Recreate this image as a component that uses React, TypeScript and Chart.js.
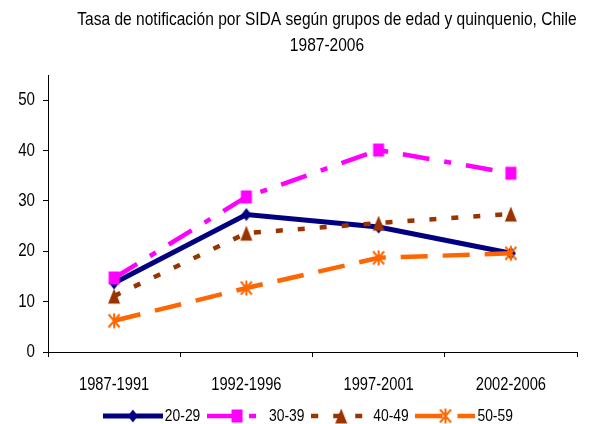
import React, { useEffect, useRef } from "react";
import { Chart, registerables } from "chart.js";

Chart.register(...registerables);

const titleLines = [
  "Tasa de notificación por SIDA según grupos de edad y quinquenio, Chile",
  "1987-2006",
];
const categories = ["1987-1991", "1992-1996", "1997-2001", "2002-2006"];
const seriesNames = ["20-29", "30-39", "40-49", "50-59"];
const values2029 = [13.7, 27.3, 24.8, 19.6];
const values3039 = [14.7, 30.8, 40.1, 35.5];
const values4049 = [11.1, 23.6, 25.6, 27.4];
const values5059 = [6.2, 12.7, 18.7, 19.6];
const yTicks = [0, 10, 20, 30, 40, 50];
const yMax = 55;

const FONT = "'Liberation Sans', Arial, sans-serif";
const TEXT_SCALE_X = 0.84;
const colors = ["#000080", "#FF00FF", "#993300", "#FF6600"];
const dashes: number[][] = [[], [27, 15, 7, 15], [7, 15], [27, 15]];
const widths = [5, 4.5, 4.5, 4.5];
const markers = ["diamond", "square", "triangle", "star"];

function drawMarker(ctx: CanvasRenderingContext2D, kind: string, cx: number, cy: number, color: string) {
  ctx.save();
  ctx.setLineDash([]);
  ctx.fillStyle = color;
  ctx.strokeStyle = color;
  ctx.beginPath();
  if (kind === "diamond") {
    ctx.moveTo(cx, cy - 6.5);
    ctx.lineTo(cx + 5, cy);
    ctx.lineTo(cx, cy + 6.5);
    ctx.lineTo(cx - 5, cy);
    ctx.closePath();
    ctx.fill();
  } else if (kind === "square") {
    ctx.rect(cx - 5.5, cy - 6.5, 11, 13);
    ctx.fill();
  } else if (kind === "triangle") {
    ctx.moveTo(cx, cy - 7.5);
    ctx.lineTo(cx + 6, cy + 7.5);
    ctx.lineTo(cx - 6, cy + 7.5);
    ctx.closePath();
    ctx.fill();
  } else {
    ctx.lineWidth = 2;
    ctx.moveTo(cx - 5.5, cy - 6.5);
    ctx.lineTo(cx + 5.5, cy + 6.5);
    ctx.moveTo(cx + 5.5, cy - 6.5);
    ctx.lineTo(cx - 5.5, cy + 6.5);
    ctx.moveTo(cx, cy - 7.5);
    ctx.lineTo(cx, cy + 7.5);
    ctx.stroke();
  }
  ctx.restore();
}

function makeCanvas(w: number, h: number, draw: (ctx: CanvasRenderingContext2D) => void) {
  const c = document.createElement("canvas");
  c.width = w;
  c.height = h;
  const ctx = c.getContext("2d");
  if (ctx) draw(ctx);
  return c;
}

function pointImage(i: number) {
  return makeCanvas(16, 18, (ctx) => drawMarker(ctx, markers[i], 8, 9, colors[i]));
}

function legendImage(i: number) {
  return makeCanvas(60, 18, (ctx) => {
    ctx.strokeStyle = colors[i];
    ctx.lineWidth = widths[i];
    ctx.setLineDash(dashes[i]);
    ctx.beginPath();
    ctx.moveTo(0, 9);
    ctx.lineTo(60, 9);
    ctx.stroke();
    drawMarker(ctx, markers[i], 30, 9, colors[i]);
  });
}

// narrow the text horizontally (reference uses a condensed-looking Arial)
function condenseText(ctx: any) {
  if (!ctx || ctx.__condensed) return;
  ctx.__condensed = true;
  const origFill = ctx.fillText.bind(ctx);
  const origMeasure = ctx.measureText.bind(ctx);
  ctx.fillText = (text: string, x: number, y: number, maxWidth?: number) => {
    ctx.save();
    ctx.translate(x, y);
    ctx.scale(TEXT_SCALE_X, 1);
    if (maxWidth !== undefined && maxWidth !== null) origFill(text, 0, 0, maxWidth / TEXT_SCALE_X);
    else origFill(text, 0, 0);
    ctx.restore();
  };
  ctx.measureText = (text: string) => {
    const m = origMeasure(text);
    return {
      width: m.width * TEXT_SCALE_X,
      actualBoundingBoxAscent: m.actualBoundingBoxAscent,
      actualBoundingBoxDescent: m.actualBoundingBoxDescent,
      actualBoundingBoxLeft: m.actualBoundingBoxLeft * TEXT_SCALE_X,
      actualBoundingBoxRight: m.actualBoundingBoxRight * TEXT_SCALE_X,
      fontBoundingBoxAscent: m.fontBoundingBoxAscent,
      fontBoundingBoxDescent: m.fontBoundingBoxDescent,
    };
  };
}

const TITLE_DX = 38.5;
const LEG_DX = 22.5;

const shiftPlugin = {
  id: "shiftBoxes",
  afterLayout(chart: any) {
    const t = chart.titleBlock;
    if (t) {
      t.left += TITLE_DX;
      t.right += TITLE_DX;
    }
    const l = chart.legend;
    if (l) {
      l.left += LEG_DX;
      l.right += LEG_DX;
    }
  },
};

export default function App() {
  const ref = useRef<HTMLCanvasElement | null>(null);

  useEffect(() => {
    if (!ref.current) return;
    condenseText(ref.current.getContext("2d"));
    const seriesValues = [values2029, values3039, values4049, values5059];
    const pImgs = seriesValues.map((_, i) => pointImage(i));
    const lImgs = seriesValues.map((_, i) => legendImage(i));
    const chart = new Chart(ref.current, {
      type: "line",
      data: {
        labels: categories,
        datasets: seriesValues.map((vals, i) => ({
          label: seriesNames[i],
          data: vals,
          borderColor: colors[i],
          backgroundColor: colors[i],
          borderWidth: widths[i],
          borderDash: dashes[i],
          borderCapStyle: "butt",
          borderJoinStyle: "miter",
          tension: 0,
          fill: false,
          pointStyle: pImgs[i],
          pointRadius: 6,
          pointHoverRadius: 6,
          order: 3 - i,
        })),
      },
      options: {
        responsive: false,
        devicePixelRatio: 1,
        animation: false,
        events: [],
        layout: { padding: { left: 0, right: 16, top: 0, bottom: -10.25 } },
        plugins: {
          tooltip: { enabled: false },
          title: {
            display: true,
            text: titleLines,
            color: "#000",
            font: { family: FONT, size: 18.5, weight: "normal", lineHeight: "26px" },
            padding: { top: 6.5, bottom: 16.5 },
          },
          legend: {
            display: true,
            position: "bottom",
            labels: {
              usePointStyle: true,
              pointStyleWidth: 47.5,
              padding: 13,
              color: "#000",
              font: { family: FONT, size: 16.5 },
              generateLabels: () =>
                seriesNames.map((name, i) => ({
                  text: name,
                  pointStyle: lImgs[i],
                  fillStyle: colors[i],
                  strokeStyle: colors[i],
                  lineWidth: 0,
                  hidden: false,
                  datasetIndex: i,
                  fontColor: "#000",
                })),
            },
          },
        },
        scales: {
          x: {
            type: "category",
            offset: true,
            grid: { offset: true, drawOnChartArea: false, drawTicks: true, tickLength: 5, color: "#000", lineWidth: 1 },
            border: { display: true, color: "#000", width: 1 },
            ticks: { color: "#000", font: { family: FONT, size: 17.5 }, padding: 18, autoSkip: false, maxRotation: 0 },
            afterFit: (s: any) => {
              s.height = 42.75;
            },
          },
          y: {
            min: 0,
            max: yMax,
            afterBuildTicks: (s: any) => {
              s.ticks = yTicks.map((v) => ({ value: v }));
            },
            afterFit: (s: any) => {
              s.width = 48;
            },
            grid: { drawOnChartArea: false, drawTicks: true, tickLength: 5, color: "#000", lineWidth: 1 },
            border: { display: true, color: "#000", width: 1 },
            ticks: { color: "#000", font: { family: FONT, size: 18 }, padding: 8 },
          },
        },
      },
      plugins: [shiftPlugin],
    } as any);
    return () => chart.destroy();
  }, []);

  return (
    <div style={{ position: "fixed", left: 0, top: 0, width: 593, height: 424, background: "#fff" }}>
      <canvas ref={ref} width={593} height={424} style={{ display: "block", width: 593, height: 424 }} />
    </div>
  );
}
